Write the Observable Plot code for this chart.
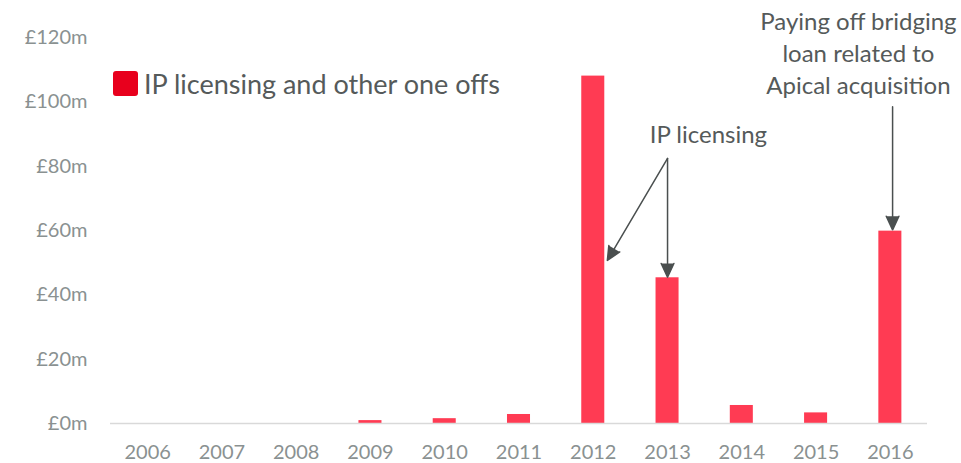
<!DOCTYPE html>
<html>
<head>
<meta charset="utf-8">
<script src="https://cdn.jsdelivr.net/npm/d3@7"></script>
<script src="https://cdn.jsdelivr.net/npm/@observablehq/plot@0.6"></script>
<style>
  html, body { margin: 0; padding: 0; background: #fff; }
  #wrap { position: relative; width: 961px; height: 463px; font-family: Lato, "Open Sans", sans-serif; }
  #legend { position: absolute; left: 113px; top: 67px; display: flex; align-items: center; gap: 6px; color: #555a5a; font-size: 27px; }
  #legend .sw { width: 25px; height: 25px; background: #e8001d; border-radius: 3px; }
</style>
</head>
<body>
<div id="wrap"></div>
<script>
const years = [2006, 2007, 2008, 2009, 2010, 2011, 2012, 2013, 2014, 2015, 2016];
const values = [0, 0, 0, 0.9, 1.5, 2.8, 108, 45.3, 5.6, 3.3, 59.8];
const yTicks = [0, 20, 40, 60, 80, 100, 120];
const seriesLabel = "IP licensing and other one offs";

// annotation arrows in data units: [x1, y1, x2, y2]
const arrowFrom = [[2013, 82.4], [2013, 82.4], [2016.03, 98.5]];
const arrowTo = [[2012.19, 50.7], [2013, 45.5], [2016.03, 60.2]];
const noteTexts = ["IP licensing", "Paying off bridging\nloan related to\nApical acquisition"];
const notePos = [[2013.55, 90.2], [2015.57, 115.5]];

const data = years.map((year, i) => ({year, value: values[i]}));
const arrows = arrowFrom.map((f, i) => ({x1: f[0], y1: f[1], x2: arrowTo[i][0], y2: arrowTo[i][1]}));
const notes = noteTexts.map((t, i) => ({text: t, x: notePos[i][0], y: notePos[i][1]}));

const half = 0.155;
const plot = Plot.plot({
  width: 961,
  height: 463,
  marginLeft: 110,
  marginRight: 34,
  marginTop: 37,
  marginBottom: 40,
  style: {fontFamily: "Lato, 'Open Sans', sans-serif", background: "#fff", overflow: "visible"},
  x: {domain: [2005.5, 2016.5], label: null},
  y: {domain: [0, 120], label: null},
  marks: [
    Plot.axisX({ticks: years, tickFormat: d => String(d), tickSize: 0, tickPadding: 21, fontSize: 20, color: "#8a9191", label: null}),
    Plot.axisY({ticks: yTicks, tickFormat: d => `£${d}m`, tickSize: 0, tickPadding: 23, fontSize: 20, color: "#8a9191", label: null}),
    Plot.rectY(data, {x1: d => d.year - half, x2: d => d.year + half, y: "value", fill: "#ff3b53"}),
    Plot.ruleY([0], {stroke: "#d9d9d9", strokeWidth: 1.5}),
    Plot.arrow(arrows, {x1: "x1", y1: "y1", x2: "x2", y2: "y2", stroke: "#4a4f4f", fill: "#4a4f4f", strokeWidth: 1.5, headLength: 15, headAngle: 50}),
    Plot.text(notes, {x: "x", y: "y", text: "text", fontSize: 24, lineHeight: 1.32, fill: "#555a5a", textAnchor: "middle"})
  ]
});

const wrap = document.getElementById("wrap");
wrap.appendChild(plot);
const legend = document.createElement("div");
legend.id = "legend";
legend.innerHTML = `<div class="sw"></div><span>${seriesLabel}</span>`;
wrap.appendChild(legend);
</script>
</body>
</html>
